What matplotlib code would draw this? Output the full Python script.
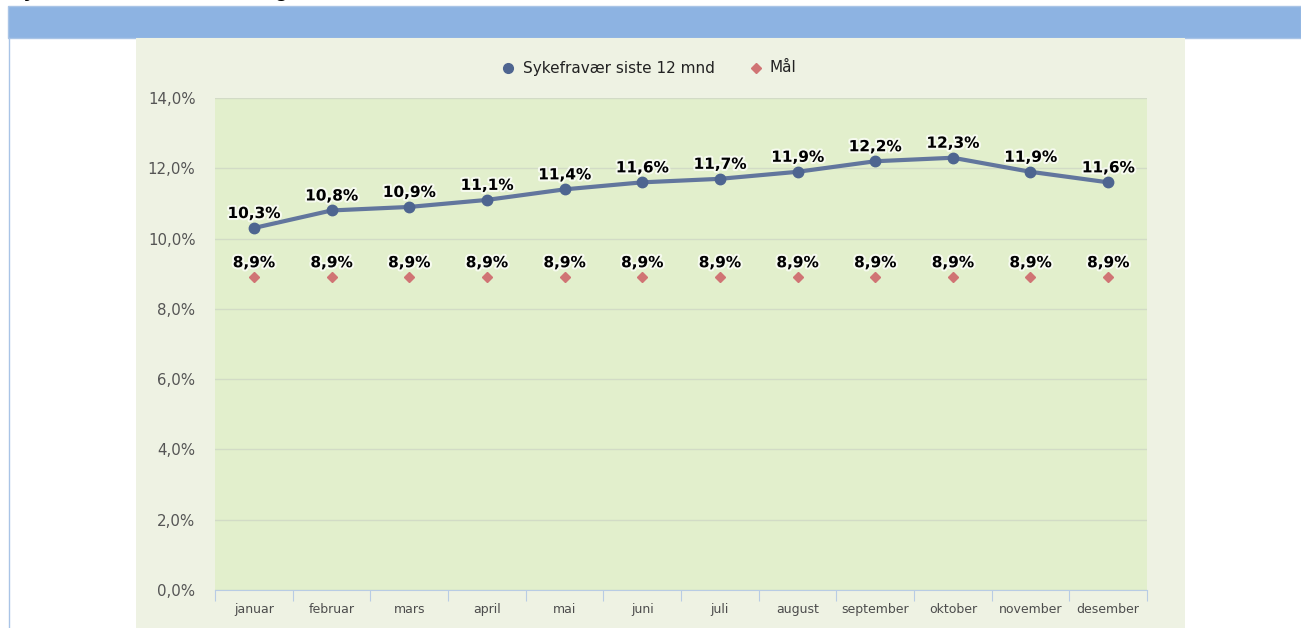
import matplotlib
matplotlib.use("Agg")
import matplotlib.pyplot as plt
import matplotlib.patheffects as pe
from matplotlib.patches import Rectangle
from matplotlib.lines import Line2D

months = ["januar", "februar", "mars", "april", "mai", "juni", "juli",
          "august", "september", "oktober", "november", "desember"]
sykefravaer = [10.3, 10.8, 10.9, 11.1, 11.4, 11.6, 11.7, 11.9, 12.2, 12.3, 11.9, 11.6]
maal = [8.9] * 12
yticks = [0, 2, 4, 6, 8, 10, 12, 14]

W, H = 1301, 628
fig = plt.figure(figsize=(W / 100, H / 100), dpi=100)
fig.patch.set_facecolor("white")

def fx(px):
    return px / W

def fy(py):
    return 1 - py / H

# blue header band
fig.add_artist(Rectangle((fx(8), fy(38)), fx(1301 - 8), (38 - 6) / H,
                         transform=fig.transFigure, facecolor="#8DB3E2",
                         edgecolor="#A9C4E6", lw=1, zorder=0))
# left border line
fig.add_artist(Line2D([fx(8.5), fx(8.5)], [fy(38), 0], transform=fig.transFigure,
                      color="#A9C4E6", lw=1))
# chart panel background
fig.add_artist(Rectangle((fx(136), 0), fx(1185 - 136), (628 - 38) / H,
                         transform=fig.transFigure, facecolor="#EEF2E3",
                         edgecolor="none", zorder=0))
# title, cut off at the top edge as in the reference
fig.text(fx(10), fy(-9), "Sykefravær siste 12 mnd og målet", fontsize=15,
         fontweight="bold", color="black", va="center", ha="left",
         family=["Liberation Sans", "DejaVu Sans"])

ax = fig.add_axes([fx(215), fy(590), fx(1147 - 215), (590 - 98) / H])
ax.set_facecolor("#E2EFCC")
x = list(range(len(months)))

ax.set_xlim(-0.5, len(months) - 0.5)
ax.set_ylim(0, 14)
ax.set_yticks(yticks)
ax.set_yticklabels([f"{v:.1f}%".replace(".", ",") for v in yticks],
                   fontsize=10.8, color="#555555",
                   family=["DejaVu Sans"])
ax.grid(axis="y", color="#D2DBC6", lw=1)
ax.set_axisbelow(True)
for s in ["top", "right", "left"]:
    ax.spines[s].set_visible(False)
ax.spines["bottom"].set_color("#B8CCE4")
ax.tick_params(axis="y", length=0, pad=14)

ax.set_xticks([i - 0.5 for i in range(len(months) + 1)], minor=False)
ax.set_xticklabels([])
ax.tick_params(axis="x", length=8, color="#B8CCE4", direction="out")
for i, m in enumerate(months):
    ax.text(i, -0.55, m, ha="center", va="center", fontsize=9,
            color="#4d4d4d", family=["DejaVu Sans"])

ax.plot(x, sykefravaer, color="#62769D", lw=3, marker="o", ms=7.5,
        markerfacecolor="#4E6590", markeredgecolor="#4E6590", zorder=3)
ax.plot(x, maal, ls="none", marker="D", ms=5, color="#D07474", zorder=3)

halo = [pe.withStroke(linewidth=3, foreground="white", alpha=0.7)]
for i, v in enumerate(sykefravaer):
    ax.text(i, v + 0.2, f"{v:.1f}%".replace(".", ","), ha="center", va="bottom",
            fontsize=11, fontweight="bold", color="black", path_effects=halo,
            family=["DejaVu Sans"])
for i, v in enumerate(maal):
    ax.text(i, v + 0.2, f"{v:.1f}%".replace(".", ","), ha="center", va="bottom",
            fontsize=11, fontweight="bold", color="black", path_effects=halo,
            family=["DejaVu Sans"])

# legend
fig.add_artist(Line2D([fx(508)], [fy(68)], transform=fig.transFigure, marker="o",
                      ms=7, color="#4E6590", ls="none"))
fig.text(fx(523), fy(68), "Sykefravær siste 12 mnd", fontsize=11, va="center",
         ha="left", color="#222222", family=["DejaVu Sans"])
fig.add_artist(Line2D([fx(756)], [fy(68)], transform=fig.transFigure, marker="D",
                      ms=5, color="#D07474", ls="none"))
fig.text(fx(769), fy(68), "Mål", fontsize=11, va="center", ha="left",
         color="#222222", family=["DejaVu Sans"])

fig.savefig("out.png", dpi=100)
